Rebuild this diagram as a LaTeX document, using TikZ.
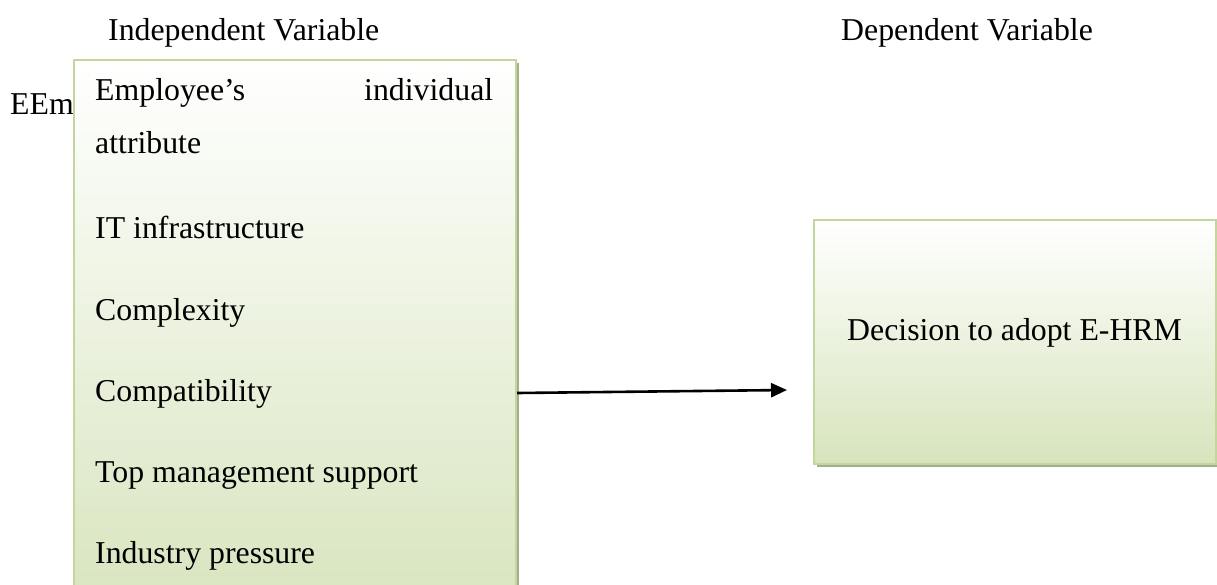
\documentclass[tikz,border=0pt]{standalone}
\usepackage{fontspec}
\setmainfont{Liberation Serif}
\usetikzlibrary{arrows.meta}

\definecolor{boxline}{HTML}{C3D69B}
\definecolor{boxfill}{HTML}{D7E4BD}
\definecolor{boxshadow}{HTML}{A3AF8A}

\tikzset{
  varbox/.style={draw=boxline, line width=2pt, top color=white, bottom color=boxfill,
                 anchor=north west, inner sep=0pt},
  shadowbox/.style={fill=boxshadow, draw=none},
  label/.style={anchor=base west, inner sep=0pt, font=\fontsize{31.8}{38}\selectfont},
  link/.style={line width=2.6pt, -{Triangle[length=16pt,width=14pt]}}
}

\begin{document}
\begin{tikzpicture}[x=1pt,y=-1pt]
  \useasboundingbox (0,0) rectangle (1217,584);
  \clip (0,0) rectangle (1217,584);

  % column headings
  \node[label] (hind) at (108,40) {Independent Variable};
  \node[label] (hdep) at (841,40) {Dependent Variable};

  % stray text partly hidden behind the left box
  \node[label] (stray) at (10,114) {EEm};

  % independent variables box
  \fill[shadowbox] (77,63) rectangle (519,624);
  \node[varbox, minimum width=442pt, minimum height=561pt] (indep) at (73,59) {};
  \node[label] (v1) at (95,100) {\makebox[398pt][s]{Employee’s\hfill individual}};
  \node[label] (v1b) at (95,153) {attribute};
  \node[label] (v2) at (95,238) {IT infrastructure};
  \node[label] (v3) at (95,320) {Complexity};
  \node[label] (v4) at (95,401) {Compatibility};
  \node[label] (v5) at (95,482) {Top management support};
  \node[label] (v6) at (95,563) {Industry pressure};

  % dependent variable box
  \fill[shadowbox] (817,223) rectangle (1219,467);
  \node[varbox, minimum width=402pt, minimum height=244pt] (dep) at (813,219) {};
  \node[label] (d1) at (847,340) {Decision to adopt E-HRM};

  % influence arrow
  \coordinate (astart) at (515,393);
  \coordinate (aend) at (787,390);
  \draw[link] (indep.east |- astart) -- (aend);
\end{tikzpicture}
\end{document}
